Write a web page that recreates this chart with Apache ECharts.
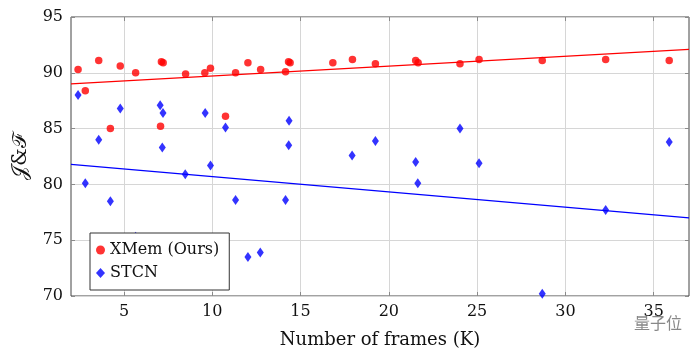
<!DOCTYPE html>
<html>
<head>
<meta charset="utf-8">
<script src="https://cdn.jsdelivr.net/npm/echarts@6/dist/echarts.min.js"></script>
<style>html,body{margin:0;padding:0;background:#fff}#c{width:700px;height:354px}</style>
</head>
<body>
<div id="c"></div>
<script>
// Data
const xmemFrames = [2.40, 2.81, 3.57, 4.23, 4.79, 5.66, 7.07, 7.12, 7.22, 8.49, 9.58, 9.90, 10.75, 11.32, 12.02, 12.74, 14.15, 14.32, 14.41, 16.83, 17.94, 19.24, 21.52, 21.66, 24.03, 25.11, 28.69, 32.28, 35.88];
const xmemScore  = [90.3, 88.4, 91.1, 85.0, 90.6, 90.0, 85.2, 91.0, 90.9, 89.9, 90.0, 90.4, 86.1, 90.0, 90.9, 90.3, 90.1, 91.0, 90.9, 90.9, 91.2, 90.8, 91.1, 90.9, 90.8, 91.2, 91.1, 91.2, 91.1];
const stcnFrames = [2.40, 2.81, 3.57, 4.23, 4.79, 5.66, 7.05, 7.21, 7.17, 8.47, 9.60, 9.90, 10.75, 11.32, 12.02, 12.72, 14.15, 14.35, 14.33, 17.92, 19.24, 21.52, 21.64, 24.03, 25.11, 28.69, 32.28, 35.88];
const stcnScore  = [88.0, 80.1, 84.0, 78.5, 86.8, 75.3, 87.1, 86.4, 83.3, 80.9, 86.4, 81.7, 85.1, 78.6, 73.5, 73.9, 78.6, 85.7, 83.5, 82.6, 83.9, 82.0, 80.1, 85.0, 81.9, 70.2, 77.7, 83.8];
const xmemFitX = [2, 37];
const xmemFitY = [89.0, 92.1];
const stcnFitX = [2, 37];
const stcnFitY = [81.8, 77.0];
const xTicks = [5, 10, 15, 20, 25, 30, 35];
const yTicks = [70, 75, 80, 85, 90, 95];
const seriesNames = ['XMem (Ours)', 'STCN'];

const zip = (a, b) => a.map((v, i) => [v, b[i]]);
const serif = 'DejaVu Serif';
const gridLine = {show: true, lineStyle: {color: '#d6d6d6', width: 1}};
const tickIn = {show: true, inside: true, length: 4, lineStyle: {color: '#8a8a8a'}};

const chart = echarts.init(document.getElementById('c'), null, {renderer: 'canvas'});
chart.setOption({
  animation: false,
  backgroundColor: '#fff',
  grid: {left: 71, right: 11, top: 17, bottom: 57, show: true, borderColor: '#444', borderWidth: 1},
  xAxis: [{
    type: 'value', min: 2, max: 37,
    name: 'Number of frames (K)', nameLocation: 'middle', nameGap: 35,
    nameTextStyle: {fontFamily: serif, fontSize: 18, color: '#111'},
    axisLine: {show: false},
    axisTick: Object.assign({}, tickIn, {customValues: xTicks}),
    axisLabel: {customValues: xTicks, fontFamily: serif, fontSize: 16, color: '#111', margin: 8},
    splitLine: gridLine
  }, {
    type: 'value', min: 2, max: 37, position: 'top',
    axisLine: {show: false},
    axisTick: Object.assign({}, tickIn, {customValues: xTicks}),
    axisLabel: {show: false, customValues: xTicks},
    splitLine: {show: false}
  }],
  yAxis: [{
    type: 'value', min: 70, max: 95, interval: 5,
    name: '𝒥&ℱ', nameLocation: 'middle', nameGap: 40,
    nameTextStyle: {fontFamily: serif, fontSize: 20, color: '#111'},
    axisLine: {show: false},
    axisTick: Object.assign({}, tickIn, {customValues: yTicks}),
    axisLabel: {customValues: yTicks, fontFamily: serif, fontSize: 16, color: '#111', margin: 8},
    splitLine: gridLine
  }, {
    type: 'value', min: 70, max: 95, interval: 5, position: 'right',
    axisLine: {show: false},
    axisTick: Object.assign({}, tickIn, {customValues: yTicks}),
    axisLabel: {show: false},
    splitLine: {show: false}
  }],
  legend: {
    data: seriesNames,
    orient: 'vertical', left: 90, top: 233,
    backgroundColor: '#fff', borderColor: '#333', borderWidth: 1,
    padding: [9, 10, 9, 6], itemGap: 7, itemWidth: 9, itemHeight: 10,
    textStyle: {fontFamily: serif, fontSize: 16, color: '#111'},
    z: 10
  },
  series: [
    {name: seriesNames[0], type: 'scatter', symbol: 'circle', symbolSize: 7.5,
     itemStyle: {color: '#ff0000'}, data: zip(xmemFrames, xmemScore), z: 4},
    {name: seriesNames[1], type: 'scatter', symbol: 'diamond', symbolSize: [7, 10],
     itemStyle: {color: '#0000ff'}, data: zip(stcnFrames, stcnScore), z: 4},
    {type: 'line', showSymbol: false, symbol: 'none', silent: true,
     lineStyle: {color: '#ff0000', width: 1.2}, data: zip(xmemFitX, xmemFitY), z: 3},
    {type: 'line', showSymbol: false, symbol: 'none', silent: true,
     lineStyle: {color: '#0000ff', width: 1.2}, data: zip(stcnFitX, stcnFitY), z: 3}
  ],
  graphic: [{
    type: 'text', left: 634, top: 315, z: 20,
    style: {text: '量子位', fontFamily: 'Noto Sans CJK SC', fontSize: 16, fill: '#888'}
  }]
});
</script>
</body>
</html>
